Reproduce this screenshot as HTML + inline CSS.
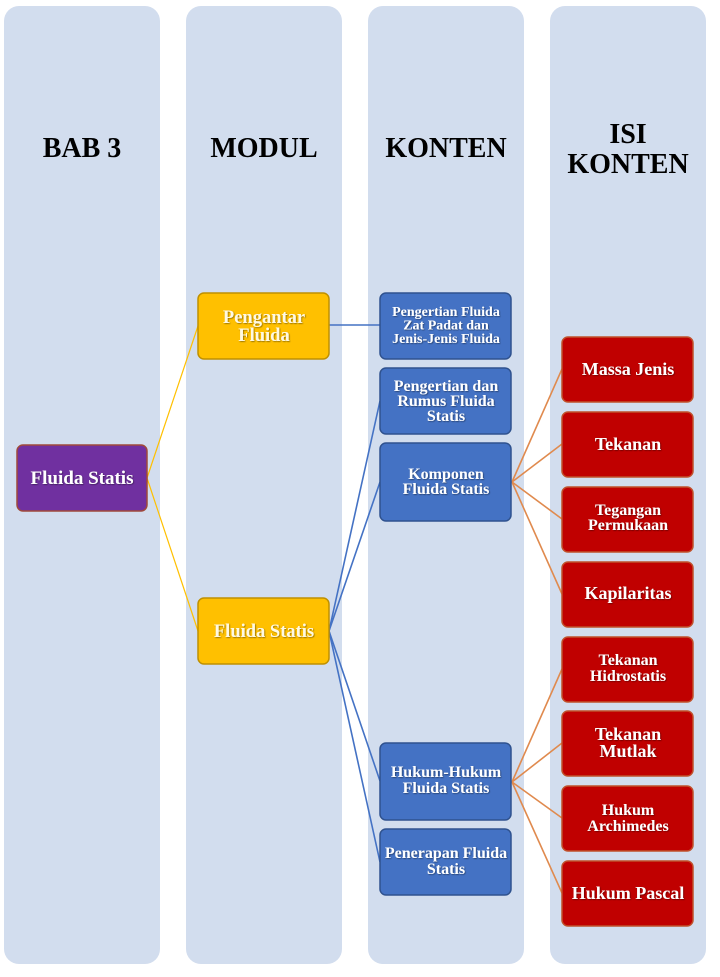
<!DOCTYPE html>
<html><head><meta charset="utf-8"><style>
html,body{margin:0;padding:0;background:#fff;width:720px;height:977px;overflow:hidden}
svg{display:block}
text{font-family:"Liberation Serif",serif;font-weight:bold;text-anchor:middle}
.h{fill:#000;font-size:28px}
.w{fill:#fff}
.y{fill:#FFF9E3}
</style></head><body>
<svg width="720" height="977" viewBox="0 0 720 977" xmlns="http://www.w3.org/2000/svg">
<defs>
<filter id="sh" x="-10%" y="-30%" width="120%" height="160%">
<feDropShadow dx="0.8" dy="0.8" stdDeviation="0.6" flood-color="#000" flood-opacity="0.45"/>
</filter>
</defs>
<!-- columns -->
<rect x="4" y="6" width="156" height="958" rx="15" fill="#D2DDEE"/>
<rect x="186" y="6" width="156" height="958" rx="15" fill="#D2DDEE"/>
<rect x="368" y="6" width="156" height="958" rx="15" fill="#D2DDEE"/>
<rect x="550" y="6" width="156" height="958" rx="15" fill="#D2DDEE"/>
<!-- headings -->
<text class="h" x="82" y="157">BAB 3</text>
<text class="h" x="264" y="157">MODUL</text>
<text class="h" x="446" y="157">KONTEN</text>
<text class="h" x="628" y="143">ISI</text>
<text class="h" x="628" y="173">KONTEN</text>
<!-- connectors -->
<g stroke="#FFC000" stroke-width="1.2" fill="none">
<line x1="147" y1="478" x2="198" y2="326"/>
<line x1="147" y1="478" x2="198" y2="631"/>
</g>
<g stroke="#4472C4" stroke-width="1.6" fill="none">
<line x1="329" y1="325" x2="380" y2="325"/>
<line x1="329" y1="631" x2="380" y2="401"/>
<line x1="329" y1="631" x2="380" y2="482"/>
<line x1="329" y1="631" x2="380" y2="781"/>
<line x1="329" y1="631" x2="380" y2="862"/>
</g>
<g stroke="#E08A4E" stroke-width="1.6" fill="none">
<line x1="512" y1="482" x2="562" y2="369"/>
<line x1="512" y1="482" x2="562" y2="444"/>
<line x1="512" y1="482" x2="562" y2="519"/>
<line x1="512" y1="482" x2="562" y2="594"/>
<line x1="512" y1="782" x2="562" y2="669"/>
<line x1="512" y1="782" x2="562" y2="743"/>
<line x1="512" y1="782" x2="562" y2="818"/>
<line x1="512" y1="782" x2="562" y2="893"/>
</g>
<!-- purple -->
<rect x="17" y="445" width="130" height="66" rx="6" fill="#7030A0" stroke="#A0493A" stroke-width="1.5"/>
<text class="w" x="82" y="484" font-size="19" filter="url(#sh)">Fluida Statis</text>
<!-- yellow -->
<rect x="198" y="293" width="131" height="66" rx="6" fill="#FFC000" stroke="#BF9000" stroke-width="1.5"/>
<text class="y" x="264" y="323" font-size="18.5" filter="url(#sh)">Pengantar</text>
<text class="y" x="264" y="341" font-size="18.5" filter="url(#sh)">Fluida</text>
<rect x="198" y="598" width="131" height="66" rx="6" fill="#FFC000" stroke="#BF9000" stroke-width="1.5"/>
<text class="y" x="264" y="637" font-size="18.5" filter="url(#sh)">Fluida Statis</text>
<!-- blue -->
<g fill="#4472C4" stroke="#2F528F" stroke-width="1.5">
<rect x="380" y="293" width="131" height="66" rx="6"/>
<rect x="380" y="368" width="131" height="66" rx="6"/>
<rect x="380" y="443" width="131" height="78" rx="6"/>
<rect x="380" y="743" width="131" height="77" rx="6"/>
<rect x="380" y="829" width="131" height="66" rx="6"/>
</g>
<g class="w" filter="url(#sh)">
<text class="w" x="446" y="316" font-size="14">Pengertian Fluida</text>
<text class="w" x="446" y="329.5" font-size="14">Zat Padat dan</text>
<text class="w" x="446" y="343" font-size="14">Jenis-Jenis Fluida</text>
<text class="w" x="446" y="391" font-size="16">Pengertian dan</text>
<text class="w" x="446" y="406" font-size="16">Rumus Fluida</text>
<text class="w" x="446" y="421" font-size="16">Statis</text>
<text class="w" x="446" y="479" font-size="16">Komponen</text>
<text class="w" x="446" y="494" font-size="16">Fluida Statis</text>
<text class="w" x="446" y="777" font-size="16">Hukum-Hukum</text>
<text class="w" x="446" y="793" font-size="16">Fluida Statis</text>
<text class="w" x="446" y="858" font-size="16">Penerapan Fluida</text>
<text class="w" x="446" y="874" font-size="16">Statis</text>
</g>
<!-- red -->
<g fill="#C00000" stroke="#C0502A" stroke-width="1.5">
<rect x="562" y="337" width="131" height="65" rx="6"/>
<rect x="562" y="412" width="131" height="65" rx="6"/>
<rect x="562" y="487" width="131" height="65" rx="6"/>
<rect x="562" y="562" width="131" height="65" rx="6"/>
<rect x="562" y="637" width="131" height="65" rx="6"/>
<rect x="562" y="711" width="131" height="65" rx="6"/>
<rect x="562" y="786" width="131" height="65" rx="6"/>
<rect x="562" y="861" width="131" height="65" rx="6"/>
</g>
<g filter="url(#sh)">
<text class="w" x="628" y="375" font-size="18">Massa Jenis</text>
<text class="w" x="628" y="450" font-size="18">Tekanan</text>
<text class="w" x="628" y="515" font-size="16">Tegangan</text>
<text class="w" x="628" y="530" font-size="16">Permukaan</text>
<text class="w" x="628" y="599" font-size="18">Kapilaritas</text>
<text class="w" x="628" y="665" font-size="16">Tekanan</text>
<text class="w" x="628" y="681" font-size="16">Hidrostatis</text>
<text class="w" x="628" y="740" font-size="18">Tekanan</text>
<text class="w" x="628" y="757" font-size="18">Mutlak</text>
<text class="w" x="628" y="815" font-size="16">Hukum</text>
<text class="w" x="628" y="831" font-size="16">Archimedes</text>
<text class="w" x="628" y="899" font-size="18">Hukum Pascal</text>
</g>
</svg>
</body></html>
